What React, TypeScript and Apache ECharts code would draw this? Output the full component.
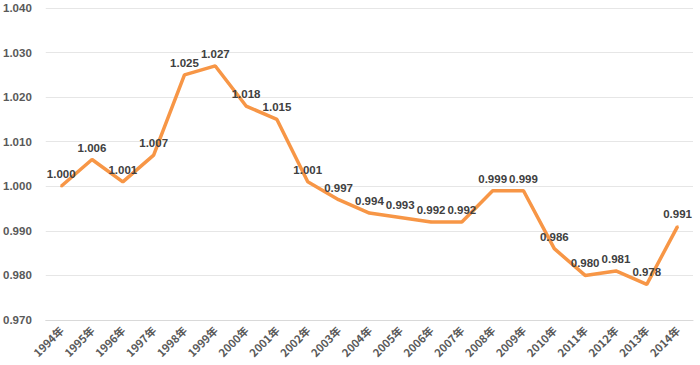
import React, { useEffect, useRef } from "react";
import * as echarts from "echarts";

const years = ["1994年","1995年","1996年","1997年","1998年","1999年","2000年","2001年","2002年","2003年","2004年","2005年","2006年","2007年","2008年","2009年","2010年","2011年","2012年","2013年","2014年"];
const values = [1.000,1.006,1.001,1.007,1.025,1.027,1.018,1.015,1.001,0.997,0.994,0.993,0.992,0.992,0.999,0.999,0.986,0.980,0.981,0.978,0.991];

export default function App() {
  const ref = useRef<HTMLDivElement>(null);
  useEffect(() => {
    const chart = echarts.init(ref.current!, null, { renderer: "svg" });
    chart.setOption({
      animation: false,
      grid: { left: 42, right: 7, top: 8, bottom: 45 },
      xAxis: {
        type: "category",
        data: years,
        boundaryGap: true,
        axisLine: { show: true, lineStyle: { color: "#d9d9d9" } },
        axisTick: { show: false },
        axisLabel: { rotate: 45, margin: 8, color: "#595959", fontSize: 11, fontWeight: "bold", fontFamily: "Noto Sans CJK SC", interval: 0 },
      },
      yAxis: {
        type: "value",
        min: 0.97,
        max: 1.04,
        interval: 0.01,
        axisLine: { show: false },
        axisTick: { show: false },
        splitLine: { lineStyle: { color: "#e6e6e6" } },
        axisLabel: { margin: 14, color: "#595959", fontSize: 11.5, fontWeight: "bold", fontFamily: "Liberation Sans", formatter: (v: number) => v.toFixed(3) },
      },
      series: [{
        type: "line",
        data: values,
        showSymbol: true,
        showAllSymbol: true,
        symbol: "circle",
        symbolSize: 2,
        lineStyle: { color: "#F79646", width: 3.5 },
        itemStyle: { color: "#F79646" },
        label: { show: true, position: "top", distance: 5, color: "#404040", fontSize: 11.5, fontWeight: "bold", fontFamily: "Liberation Sans", formatter: (p: any) => Number(p.value).toFixed(3) },
      }],
    });
    return () => chart.dispose();
  }, []);
  return <div ref={ref} style={{ width: 700, height: 365, position: "absolute", left: 0, top: 0 }} />;
}
